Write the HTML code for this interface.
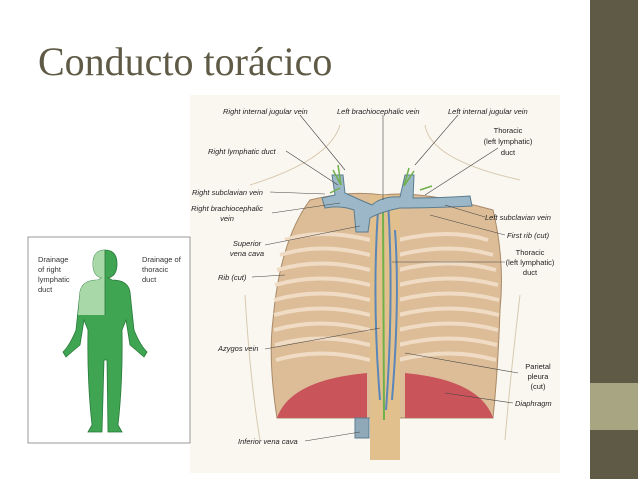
<!DOCTYPE html>
<html><head><meta charset="utf-8"><style>
html,body{margin:0;padding:0;background:#fff}
svg{display:block}
text{font-family:"Liberation Sans",sans-serif}
</style></head><body>
<svg width="638" height="479" viewBox="0 0 638 479" xmlns="http://www.w3.org/2000/svg">
<rect width="638" height="479" fill="#fff"/>
<rect x="590" y="0" width="48" height="479" fill="#5e5a45"/>
<rect x="590" y="383" width="48" height="47" fill="#a8a583"/>
<text x="38" y="75" font-size="40" fill="#5e5a45" style="font-family:'Liberation Serif',serif">Conducto torácico</text>

<rect x="190" y="95" width="370" height="378" fill="#faf7f0"/>
<path d="M340 125 Q330 160 250 185 M425 125 Q430 160 520 180 M245 295 Q250 380 260 440 M520 295 Q510 380 505 440" stroke="#d8c9b0" fill="none" stroke-width="1"/>
<path d="M310 200 Q350 190 383 195 Q420 190 493 210 Q505 260 500 310 Q498 370 493 418 L277 418 Q268 360 273 320 Q280 240 310 200 Z" fill="#dcbd98" stroke="#a88a68" stroke-width="1"/>
<g stroke="#f0dcc4" stroke-width="4" fill="none">
<path d="M285 240 Q320 228 370 240"/><path d="M280 255 Q320 242 370 255"/><path d="M277 270 Q320 257 370 270"/><path d="M275 285 Q320 272 370 285"/><path d="M274 300 Q320 287 370 300"/><path d="M274 315 Q320 302 370 315"/><path d="M274 330 Q320 317 370 330"/><path d="M275 345 Q320 332 370 345"/><path d="M276 360 Q320 347 370 360"/>
<path d="M398 240 Q450 228 488 240"/><path d="M398 255 Q450 242 493 255"/><path d="M398 270 Q450 257 496 270"/><path d="M398 285 Q450 272 498 285"/><path d="M398 300 Q450 287 499 300"/><path d="M398 315 Q450 302 499 315"/><path d="M398 330 Q450 317 498 330"/><path d="M398 345 Q450 332 497 345"/><path d="M398 360 Q450 347 496 360"/>
</g>
<path d="M277 418 Q290 380 367 373 L367 418 Z" fill="#c9545a"/>
<path d="M405 373 Q480 380 493 418 L405 418 Z" fill="#c9545a"/>
<rect x="370" y="195" width="30" height="265" fill="#e2c08e"/>
<path d="M378 210 Q372 300 380 400 M388 200 Q394 300 386 410 M395 230 Q400 300 392 400" stroke="#5a86b8" stroke-width="2" fill="none"/>
<path d="M383 200 L384 420" stroke="#6fb04a" stroke-width="2"/>
<path d="M332 175 L343 175 L345 193 Q360 200 372 205 Q382 196 400 197 L405 175 L414 175 L413 198 Q440 198 470 196 L472 206 Q430 208 400 208 Q380 212 370 218 L368 232 L356 232 L354 210 Q340 205 325 208 L322 198 L335 195 Z" fill="#9cb8c8" stroke="#5a7d90" stroke-width="1"/>
<rect x="355" y="418" width="14" height="20" fill="#8fa9b8" stroke="#5a7d90"/>
<path d="M333 170 l8 15 l-3 -20 M409 168 l-5 18 l10 -15 M340 188 l-10 5 M420 190 l12 -4" stroke="#6fb04a" stroke-width="1.5" fill="none"/>
<g stroke="#444" stroke-width="0.6" fill="none">
<path d="M300 115 L345 170"/><path d="M383 115 L383 200"/><path d="M458 115 L415 165"/>
<path d="M498 148 L425 195"/><path d="M286 151 L338 185"/><path d="M270 192 L325 194"/>
<path d="M272 213 L340 203"/><path d="M265 245 L360 226"/><path d="M252 277 L285 275"/>
<path d="M265 349 L380 328"/><path d="M305 441 L360 432"/><path d="M485 217 L445 205"/>
<path d="M505 235 L430 215"/><path d="M505 262 L392 262"/><path d="M518 373 L405 353"/>
<path d="M513 403 L445 393"/>
</g>
<g font-size="7.5" font-style="italic" fill="#222">
<text x="223" y="114">Right internal jugular vein</text>
<text x="337" y="114">Left brachiocephalic vein</text>
<text x="448" y="114">Left internal jugular vein</text>
<text x="208" y="154">Right lymphatic duct</text>
<text x="192" y="195">Right subclavian vein</text>
<text x="227" y="211" text-anchor="middle">Right brachiocephalic</text>
<text x="227" y="221" text-anchor="middle">vein</text>
<text x="247" y="246" text-anchor="middle">Superior</text>
<text x="247" y="256" text-anchor="middle">vena cava</text>
<text x="218" y="280">Rib (cut)</text>
<text x="218" y="351">Azygos vein</text>
<text x="238" y="444">Inferior vena cava</text>
<text x="485" y="220">Left subclavian vein</text>
<text x="507" y="238">First rib (cut)</text>
<text x="515" y="406">Diaphragm</text>
</g>
<g font-size="7.5" fill="#222" text-anchor="middle">
<text x="508" y="133">Thoracic</text><text x="508" y="144">(left lymphatic)</text><text x="508" y="155">duct</text>
<text x="530" y="255">Thoracic</text><text x="530" y="265">(left lymphatic)</text><text x="530" y="275">duct</text>
<text x="538" y="369">Parietal</text><text x="538" y="379">pleura</text><text x="538" y="389">(cut)</text>
</g>

<rect x="28" y="237" width="162" height="206" fill="#fff" stroke="#999" stroke-width="1"/>
<path d="M105 250 Q117 250 117 264 Q117 276 108 278 L112 280 Q128 280 130 292 L134 330 Q140 345 147 352 L144 357 Q136 350 130 345 L126 320 L122 330 Q123 380 118 425 L122 432 L108 432 L107 360 L104 360 L102 432 L88 432 L92 425 Q87 380 88 330 L84 320 L80 345 Q74 350 66 357 L63 352 Q70 345 76 330 L80 292 Q82 280 98 280 L102 278 Q93 276 93 264 Q93 250 105 250 Z" fill="#3fa552" stroke="#2a7a3a" stroke-width="0.8"/>
<path d="M105 250 Q93 250 93 264 Q93 276 102 278 L98 280 Q82 280 80 292 L78 315 L105 315 Z" fill="#a8d8a8"/>
<path d="M105 250 L105 315" stroke="#2a7a3a" stroke-width="0.8"/>
<g font-size="7.5" fill="#333">
<text x="38" y="262">Drainage</text><text x="38" y="272">of right</text><text x="38" y="282">lymphatic</text><text x="38" y="292">duct</text>
<text x="142" y="262">Drainage of</text><text x="142" y="272">thoracic</text><text x="142" y="282">duct</text>
</g>
</svg>
</body></html>
